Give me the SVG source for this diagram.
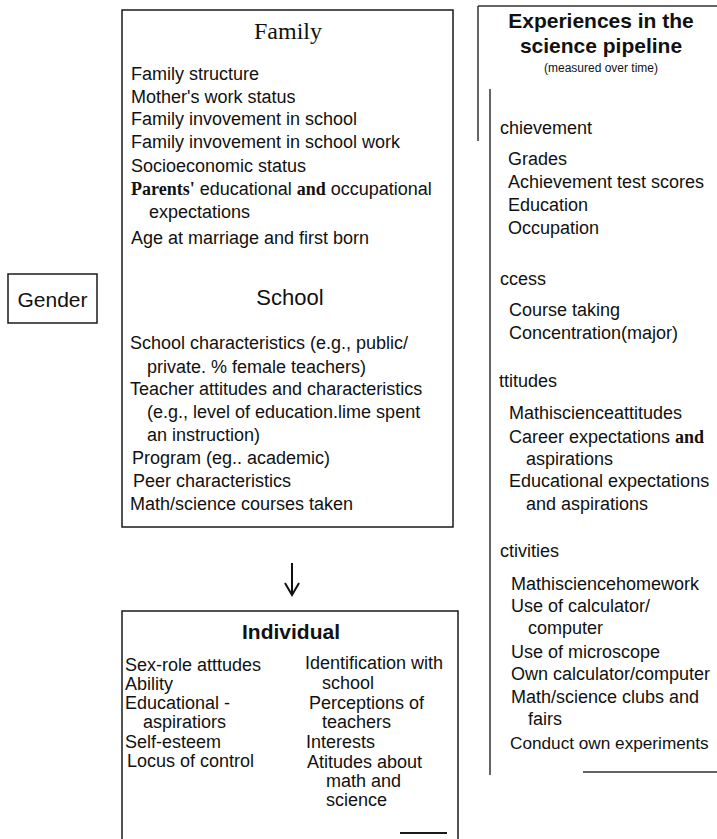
<svg xmlns="http://www.w3.org/2000/svg" width="717" height="839" viewBox="0 0 717 839">
<style>
  text { font-family: "Liberation Sans", Arial, sans-serif; font-size: 18px; fill: #111; }
  .serif { font-family: "Liberation Serif", "Times New Roman", serif; }
  .sb { font-family: "Liberation Serif", "Times New Roman", serif; font-weight: bold; }
  .h { text-anchor: middle; }
  .bold { font-weight: bold; }
  .box { fill: none; stroke: #1a1a1a; stroke-width: 1.5; }
  .ln { fill: none; stroke: #333; stroke-width: 1.5; }
</style>
<rect width="717" height="839" fill="#fff"/>

<g id="gender">
  <rect class="box" x="8" y="274" width="89" height="49"/>
  <text x="52.5" y="307" class="h" style="font-size:21px">Gender</text>
</g>

<g id="family-school">
  <rect class="box" x="122" y="10" width="331" height="517"/>
  <text x="288" y="39" class="h serif" style="font-size:24px">Family</text>
  <text x="131" y="80">Family structure</text>
  <text x="131" y="103">Mother's work status</text>
  <text x="131" y="125">Family invovement in school</text>
  <text x="131" y="148">Family invovement in school work</text>
  <text x="131" y="172">Socioeconomic status</text>
  <text x="131" y="195"><tspan class="sb">Parents'</tspan> educational <tspan class="sb">and</tspan> occupational</text>
  <text x="149" y="218">expectations</text>
  <text x="131" y="244">Age at marriage and first born</text>
  <text x="290" y="305" class="h" style="font-size:22px">School</text>
  <text x="130" y="349">School characteristics (e.g., public/</text>
  <text x="147" y="373">private. % female teachers)</text>
  <text x="130" y="395">Teacher attitudes and characteristics</text>
  <text x="147" y="418">(e.g., level of education.lime spent</text>
  <text x="147" y="441">an instruction)</text>
  <text x="132" y="464">Program (eg.. academic)</text>
  <text x="133" y="487">Peer characteristics</text>
  <text x="130" y="510">Math/science courses taken</text>
</g>

<g id="individual">
  <path class="box" d="M122 839 V611 H458 V839"/>
  <path class="box" d="M400 833 H447" style="stroke-width:2"/>
  <text x="291" y="639" class="h bold" style="font-size:21px">Individual</text>
  <text x="125" y="671">Sex-role atttudes</text>
  <text x="125" y="690">Ability</text>
  <text x="125" y="709">Educational -</text>
  <text x="143" y="728">aspiratiors</text>
  <text x="125" y="748">Self-esteem</text>
  <text x="127" y="767">Locus of control</text>
  <text x="305" y="669">Identification with</text>
  <text x="322" y="689">school</text>
  <text x="309" y="709">Perceptions of</text>
  <text x="322" y="728">teachers</text>
  <text x="306" y="748">Interests</text>
  <text x="307" y="768">Atitudes about</text>
  <text x="326" y="787">math and</text>
  <text x="326" y="806">science</text>
</g>

<g id="pipeline">
  <path class="ln" d="M478 6 H717 M478 6 V141 M490 89 V775 M583 772 H717"/>
  <text x="601" y="28" class="h bold" style="font-size:21px">Experiences in the</text>
  <text x="601" y="53" class="h bold" style="font-size:21px">science pipeline</text>
  <text x="601" y="72" class="h" style="font-size:12px">(measured over time)</text>
  <text x="500" y="134">chievement</text>
  <text x="508" y="165">Grades</text>
  <text x="508" y="188">Achievement test scores</text>
  <text x="508" y="211">Education</text>
  <text x="508" y="234">Occupation</text>
  <text x="500" y="285">ccess</text>
  <text x="509" y="316">Course taking</text>
  <text x="509" y="339">Concentration(major)</text>
  <text x="499" y="387">ttitudes</text>
  <text x="509" y="419">Mathiscienceattitudes</text>
  <text x="509" y="443">Career expectations <tspan class="sb">and</tspan></text>
  <text x="526" y="465">aspirations</text>
  <text x="509" y="487">Educational expectations</text>
  <text x="526" y="510">and aspirations</text>
  <text x="500" y="557">ctivities</text>
  <text x="511" y="590">Mathisciencehomework</text>
  <text x="511" y="612">Use of calculator/</text>
  <text x="528" y="634">computer</text>
  <text x="511" y="658">Use of microscope</text>
  <text x="511" y="680">Own calculator/computer</text>
  <text x="511" y="703">Math/science clubs and</text>
  <text x="528" y="725">fairs</text>
  <text x="510" y="749" style="font-size:17.2px">Conduct own experiments</text>
</g>

<g id="connectors">
  <path d="M292 563 V594" fill="none" stroke="#111" stroke-width="2"/>
  <path d="M285 583 L292 595 L299 583" fill="none" stroke="#111" stroke-width="2"/>
</g>
</svg>
